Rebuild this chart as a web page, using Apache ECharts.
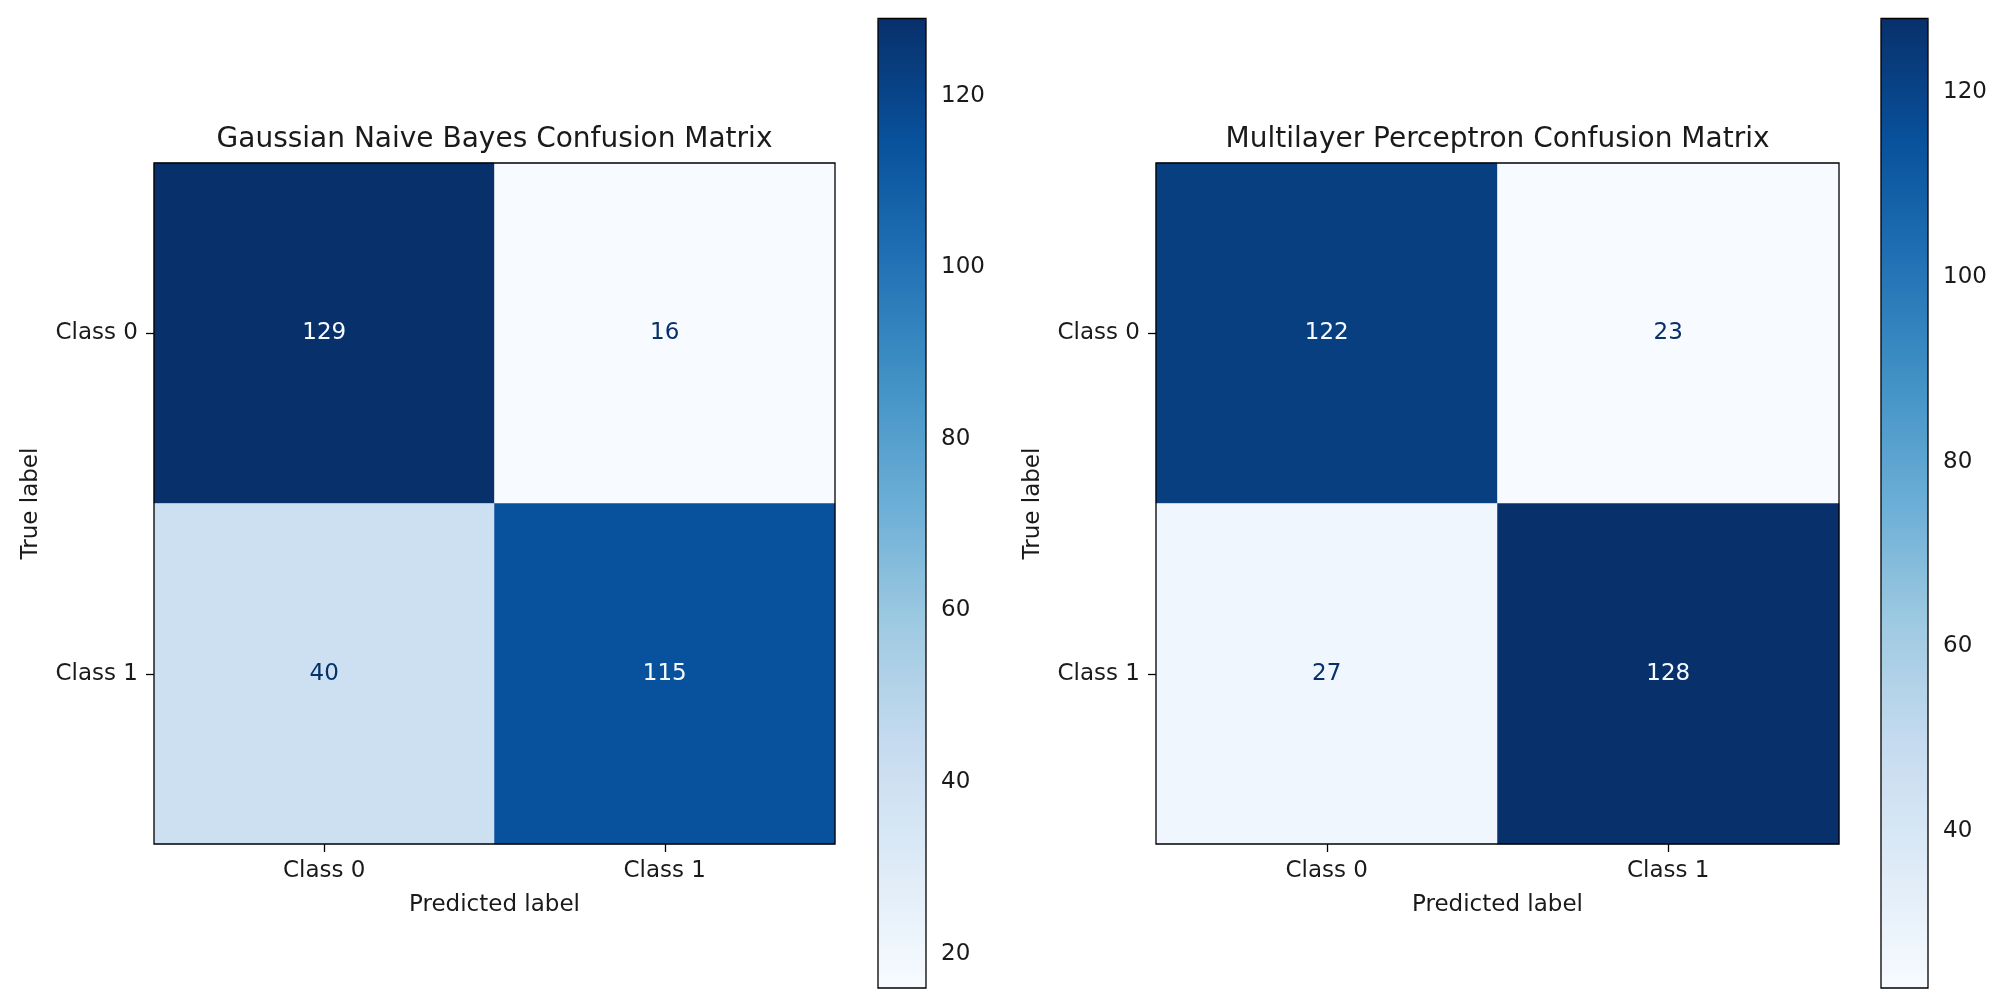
<!DOCTYPE html>
<html><head><meta charset="utf-8">
<script src="https://cdn.jsdelivr.net/npm/echarts@6/dist/echarts.min.js"></script>
<style>html,body{margin:0;padding:0;background:#fff}#c{width:2008px;height:995px}</style>
</head><body><div id="c"></div>
<script>
// ---- data ----
const classes = ['Class 0', 'Class 1'];
const titles = ['Gaussian Naive Bayes Confusion Matrix', 'Multilayer Perceptron Confusion Matrix'];
const gnbMatrix = [[129, 16], [40, 115]];
const mlpMatrix = [[122, 23], [27, 128]];
const gnbColorbarTicks = [20, 40, 60, 80, 100, 120];
const mlpColorbarTicks = [40, 60, 80, 100, 120];
const xAxisName = 'Predicted label';
const yAxisName = 'True label';

// ---- style ----
const FONT = 'DejaVu Sans';
const TXT = '#1a1a1a';
const blues = ['#f7fbff', '#deebf7', '#c6dbef', '#9ecae1', '#6baed6', '#4292c6', '#2171b5', '#08519c', '#08306b'];
const panels = [
  { m: gnbMatrix, ticks: gnbColorbarTicks, grid: { left: 154, top: 163, width: 681, height: 681 }, cb: { left: 878, top: 18.5, width: 48, height: 969.5 } },
  { m: mlpMatrix, ticks: mlpColorbarTicks, grid: { left: 1156, top: 163, width: 683, height: 681 }, cb: { left: 1881, top: 18.5, width: 47, height: 969.5 } }
];

const option = { animation: false, backgroundColor: '#fff', title: [], grid: [], xAxis: [], yAxis: [], series: [], visualMap: [] };

panels.forEach((p, k) => {
  const flat = p.m.flat();
  const vmin = Math.min(...flat), vmax = Math.max(...flat);
  const thresh = (vmin + vmax) / 2;
  const g = option.grid.length;
  // heatmap grid
  option.grid.push(Object.assign({ show: true, borderColor: '#000', borderWidth: 1.3, backgroundColor: 'transparent', z: 10 }, p.grid));
  option.xAxis.push({
    type: 'category', data: classes, gridIndex: g, position: 'bottom',
    axisLine: { show: false }, splitLine: { show: false },
    axisTick: { show: true, alignWithLabel: true, length: 8, lineStyle: { color: '#000', width: 1.3 } },
    axisLabel: { color: TXT, fontFamily: FONT, fontSize: 23, margin: 16 },
    name: xAxisName, nameLocation: 'middle', nameGap: 50,
    nameTextStyle: { color: TXT, fontFamily: FONT, fontSize: 23 }
  });
  option.yAxis.push({
    type: 'category', data: classes, gridIndex: g, inverse: true,
    axisLine: { show: false }, splitLine: { show: false },
    axisTick: { show: true, alignWithLabel: true, length: 8, lineStyle: { color: '#000', width: 1.3 } },
    axisLabel: { color: TXT, fontFamily: FONT, fontSize: 23, margin: 16 },
    name: yAxisName, nameLocation: 'middle', nameGap: 111,
    nameTextStyle: { color: TXT, fontFamily: FONT, fontSize: 23 }
  });
  const data = [];
  p.m.forEach((row, i) => row.forEach((v, j) => {
    data.push({ value: [j, i, v], label: { color: v < thresh ? blues[blues.length - 1] : blues[0] } });
  }));
  const sIdx = option.series.length;
  option.series.push({
    type: 'heatmap', xAxisIndex: g, yAxisIndex: g, data: data,
    label: { show: true, fontFamily: FONT, fontSize: 23 },
    emphasis: { disabled: true }, itemStyle: { borderWidth: 0 }
  });
  option.title.push({
    text: titles[k], left: p.grid.left + p.grid.width / 2, top: 126, textAlign: 'center', padding: 0,
    textStyle: { color: TXT, fontFamily: FONT, fontSize: 28, fontWeight: 'normal' }
  });
  // colorbar
  option.visualMap.push({
    type: 'continuous', seriesIndex: sIdx, min: vmin, max: vmax, calculable: false,
    orient: 'vertical', left: p.cb.left, top: p.cb.top, itemWidth: p.cb.width, itemHeight: p.cb.height,
    padding: 0, inRange: { color: blues }, hoverLink: false, z: 1
  });
  const cg = option.grid.length;
  option.grid.push(Object.assign({ show: true, borderColor: '#000', borderWidth: 1.3, backgroundColor: 'transparent', z: 10 }, p.cb));
  option.xAxis.push({ type: 'value', gridIndex: cg, show: false, min: 0, max: 1 });
  option.yAxis.push({
    type: 'value', gridIndex: cg, position: 'right', min: vmin, max: vmax,
    axisLine: { show: false }, splitLine: { show: false },
    axisTick: { show: true, length: 7, customValues: p.ticks, lineStyle: { color: '#000', width: 1.3 } },
    axisLabel: { color: TXT, fontFamily: FONT, fontSize: 23, margin: 15, customValues: p.ticks }
  });
});

const chart = echarts.init(document.getElementById('c'), null, { renderer: 'canvas' });
chart.setOption(option);
</script>
</body></html>
